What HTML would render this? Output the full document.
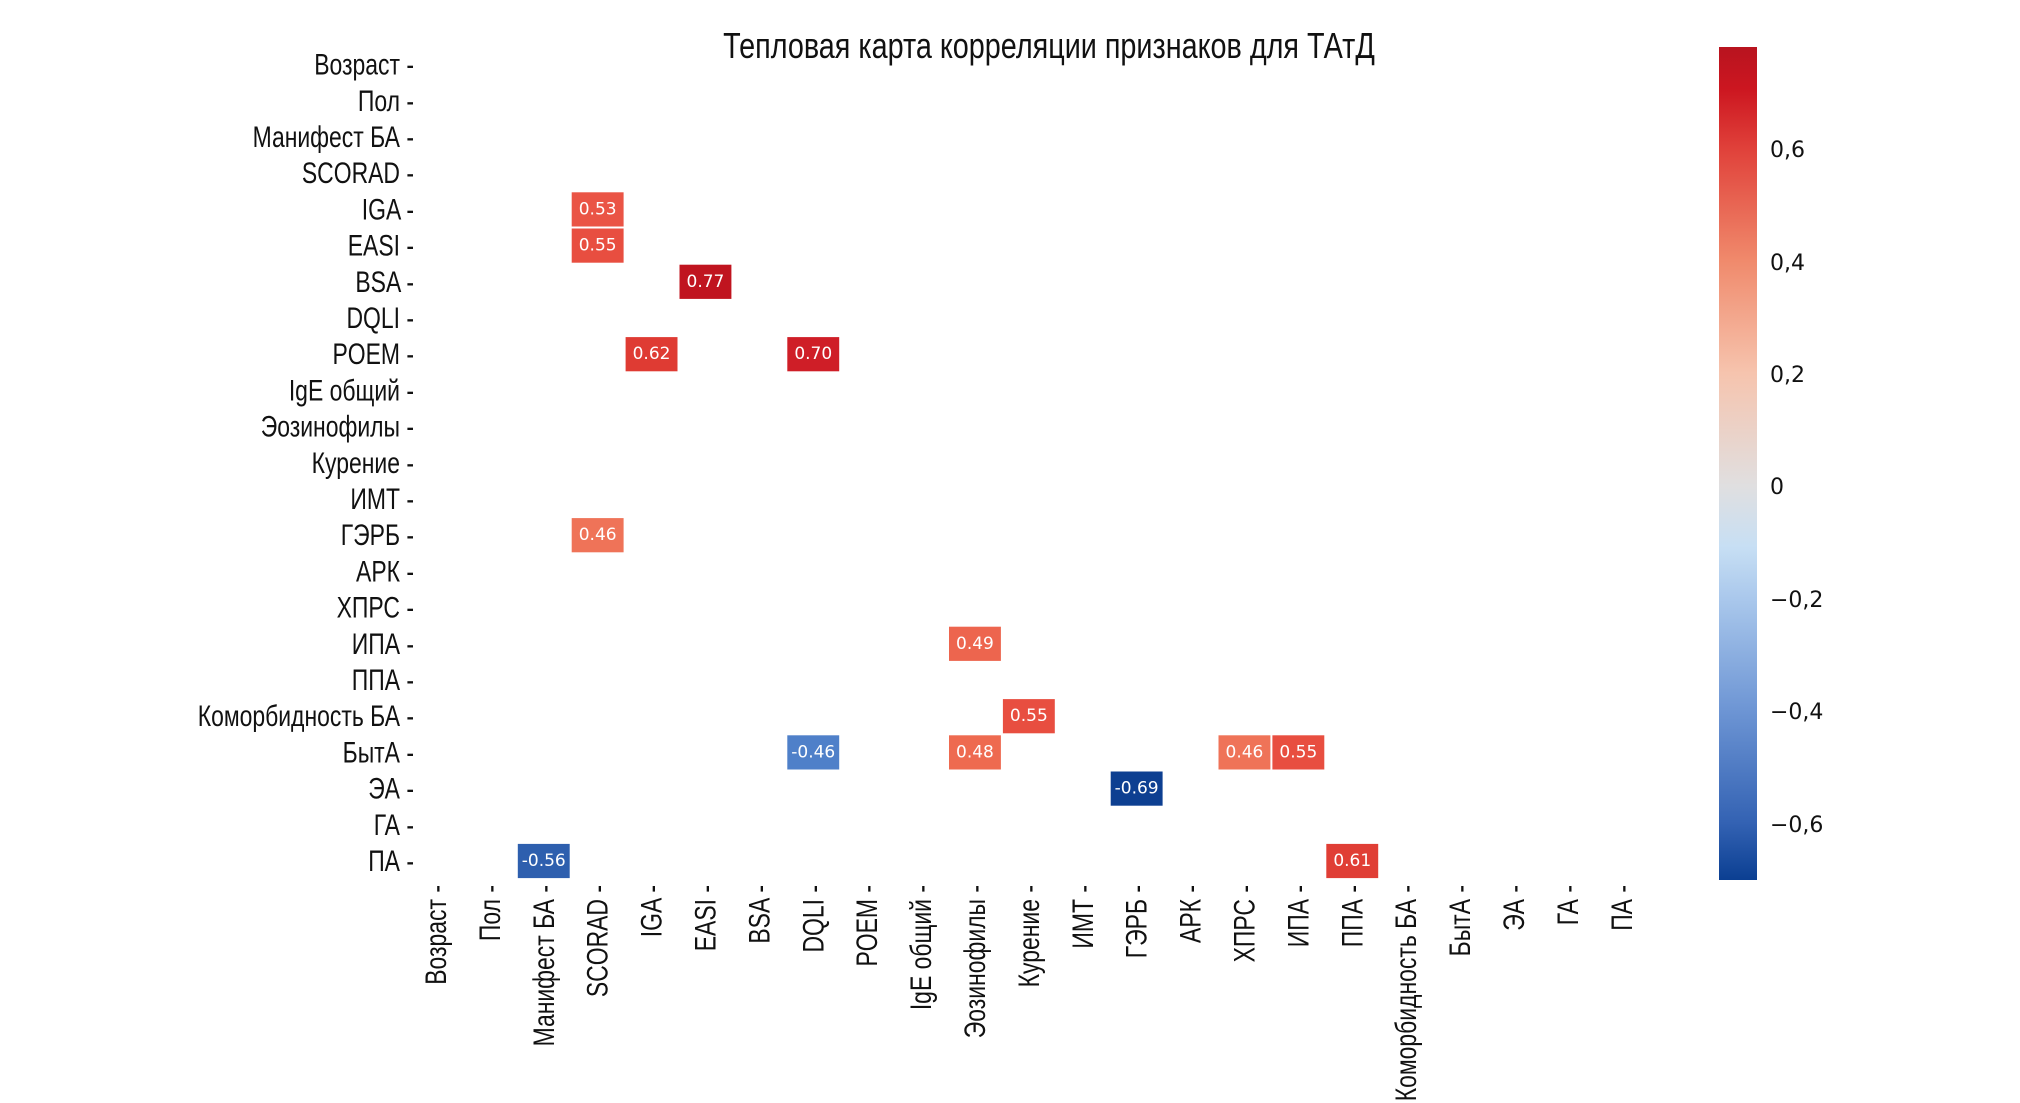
<!DOCTYPE html>
<html><head><meta charset="utf-8"><style>
html,body{margin:0;padding:0;background:#fff;}
svg{display:block;}
.lab{font-family:"Liberation Sans","DejaVu Sans",sans-serif;font-size:30px;fill:#111;}
.ct{font-family:"DejaVu Sans","Liberation Sans",sans-serif;font-size:17px;fill:#fff;text-anchor:middle;dominant-baseline:central;}
.cb{font-family:"DejaVu Sans","Liberation Sans",sans-serif;font-size:22px;fill:#111;}
</style></head><body>
<svg width="2020" height="1103" viewBox="0 0 2020 1103" xmlns="http://www.w3.org/2000/svg">
<defs>
<linearGradient id="g" x1="0" y1="0" x2="0" y2="1">
<stop offset="0" stop-color="#b8141f"/>
<stop offset="0.05" stop-color="#cc1620"/>
<stop offset="0.122" stop-color="#e0413a"/>
<stop offset="0.257" stop-color="#f08a6c"/>
<stop offset="0.392" stop-color="#f6c4ae"/>
<stop offset="0.527" stop-color="#e0dfe0"/>
<stop offset="0.6" stop-color="#c7dff4"/>
<stop offset="0.662" stop-color="#aac8ec"/>
<stop offset="0.797" stop-color="#6d95d4"/>
<stop offset="0.932" stop-color="#3362b3"/>
<stop offset="1" stop-color="#0b3f92"/>
</linearGradient>
</defs>
<text x="1049" y="58" text-anchor="middle" class="lab" style="font-size:36px" transform="translate(1049 0) scale(0.8 1) translate(-1049 0)">Тепловая карта корреляции признаков для ТАтД</text>
<g id="ylabels"></g>
<g id="xlabels"></g>
<g id="cells"></g>
<rect x="1719" y="47" width="38" height="833" fill="url(#g)"/>
<text class="cb" x="1770" y="157">0,6</text>
<text class="cb" x="1770" y="270">0,4</text>
<text class="cb" x="1770" y="382">0,2</text>
<text class="cb" x="1770" y="494">0</text>
<text class="cb" x="1770" y="607">−0,2</text>
<text class="cb" x="1770" y="719">−0,4</text>
<text class="cb" x="1770" y="832">−0,6</text>
</svg>
<script>
const names=["Возраст","Пол","Манифест БА","SCORAD","IGA","EASI","BSA","DQLI","POEM","IgE общий","Эозинофилы","Курение","ИМТ","ГЭРБ","АРК","ХПРС","ИПА","ППА","Коморбидность БА","БытА","ЭА","ГА","ПА"];
const NS="http://www.w3.org/2000/svg";
const x0=409,cw=53.9,y0=46.5,rh=36.2;
const yl=document.getElementById("ylabels"),xl=document.getElementById("xlabels"),cl=document.getElementById("cells");
function t(p,attrs,txt){const e=document.createElementNS(NS,"text");for(const k in attrs)e.setAttribute(k,attrs[k]);e.textContent=txt;p.appendChild(e);return e;}
names.forEach((n,i)=>{
 const cy=y0+rh*(i+0.5);
 t(yl,{class:"lab",x:414,y:cy+10,"text-anchor":"end",transform:`translate(414 0) scale(0.765 1) translate(-414 0)`},n+" -");
 const cx=x0+cw*(i+0.5);
 t(xl,{class:"lab",x:0,y:0,"text-anchor":"end",transform:`translate(${cx+10} 885) rotate(-90) scale(0.765 1)`},n+" -");
});
const cells=[[4,3,0.53,"#ea5445"],[5,3,0.55,"#e84e40"],[6,5,0.77,"#c0141f"],[8,4,0.62,"#df3b33"],[8,7,0.70,"#cf1e27"],[13,3,0.46,"#ef7358"],[16,10,0.49,"#ed654e"],[18,11,0.55,"#e84e40"],[19,7,-0.46,"#4f80c9"],[19,10,0.48,"#ee6a50"],[19,15,0.46,"#ef7358"],[19,16,0.55,"#e84e40"],[20,13,-0.69,"#0d3f91"],[22,2,-0.56,"#2e5fae"],[22,17,0.61,"#e03e35"]];
cells.forEach(([r,c,v,col])=>{
 const r0=document.createElementNS(NS,"rect");
 const x=x0+c*cw,y=y0+r*rh;
 r0.setAttribute("x",x+1);r0.setAttribute("y",y+1);r0.setAttribute("width",cw-2);r0.setAttribute("height",rh-2);r0.setAttribute("fill",col);
 cl.appendChild(r0);
 t(cl,{class:"ct",x:x+cw/2,y:y+rh/2},v.toFixed(2));
});
</script>
</body></html>
